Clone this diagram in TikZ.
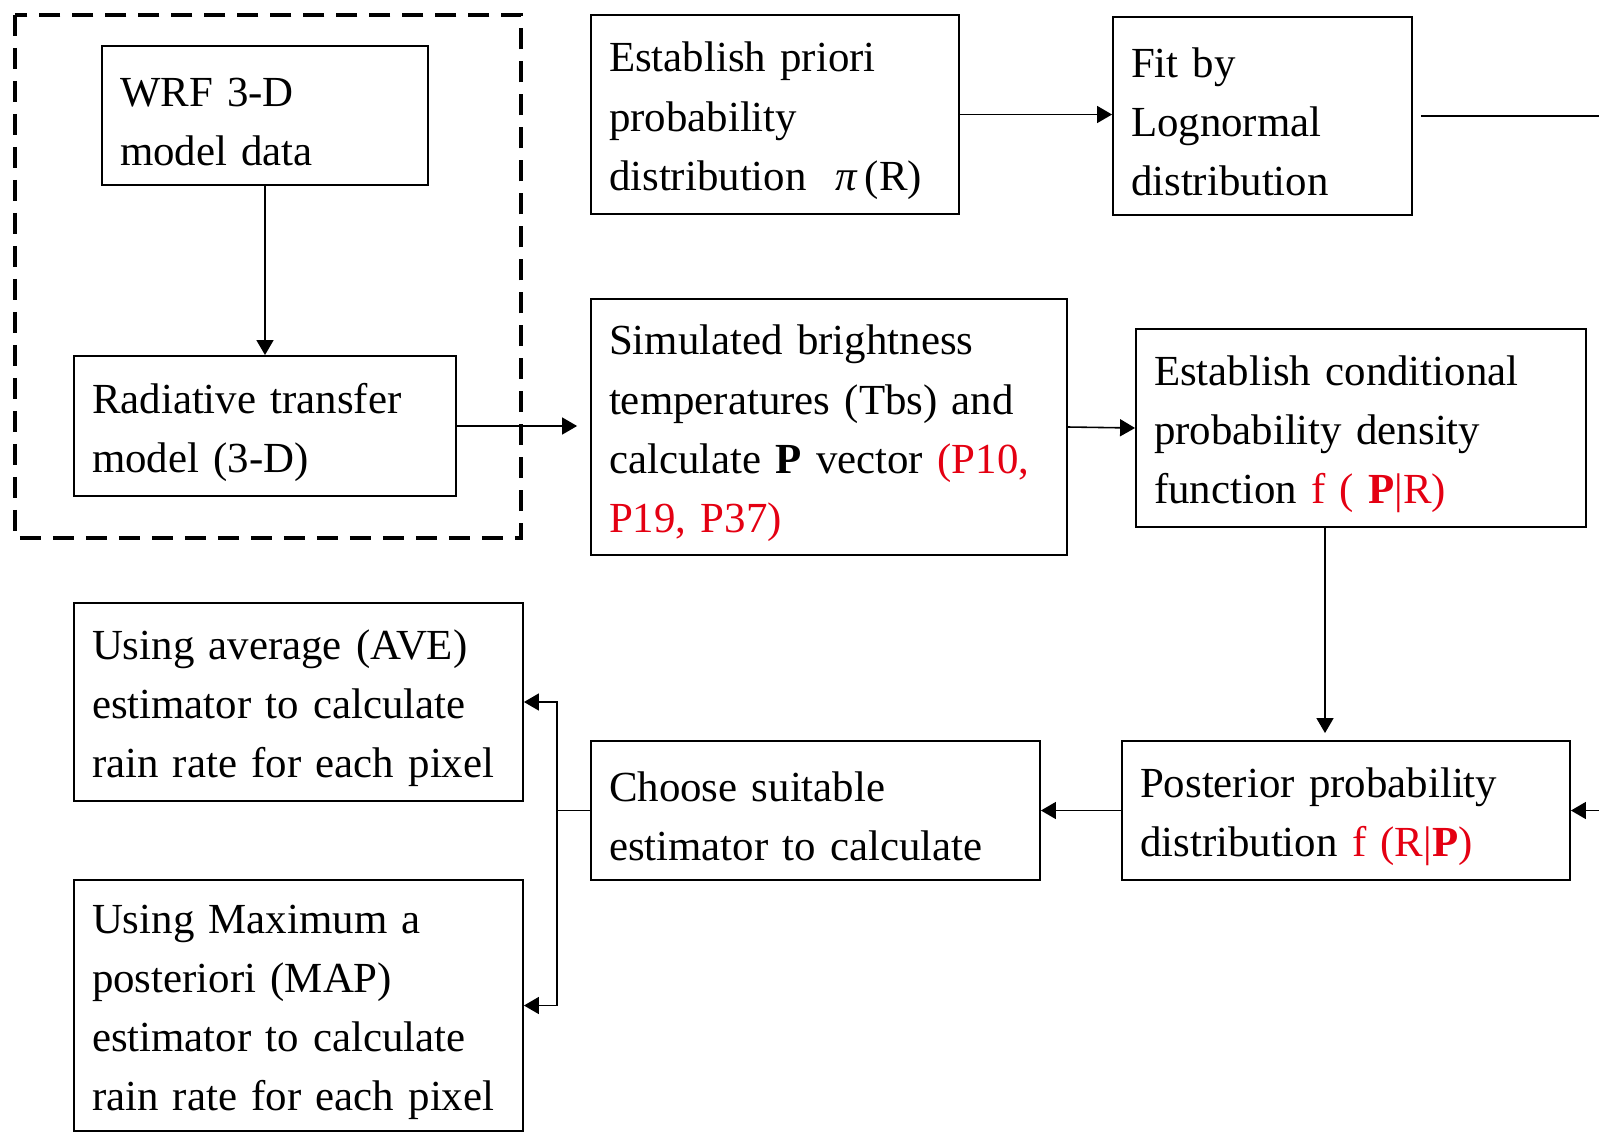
\documentclass[tikz,border=0pt]{standalone}
\usepackage{fontspec}
\setmainfont{Liberation Serif}[WordSpace=0.8]
\usetikzlibrary{arrows.meta}
\definecolor{estred}{RGB}{228,0,18}

\begin{document}
\begin{tikzpicture}[x=0.02cm, y=-0.02cm,
        box/.style={draw, line width=1.1pt, inner xsep=0.36cm, inner ysep=0pt, align=left,
            font=\fontsize{24.4}{33.6}\selectfont, execute at begin node={\rule{0pt}{24pt}}},
        link/.style={line width=0.9pt, -{Triangle[length=0.3cm, width=0.34cm]}}]
        \useasboundingbox (0, 0) rectangle (1599, 1133);

        % Model part inside the dashed frame
        \draw[line width=2pt, dash pattern=on 0.42cm off 0.24cm] (15, 15) rectangle (521, 538);
        \node[box, text width=5.80cm, minimum height=2.78cm] (wrf) at (265, 115.5) {WRF 3-D\\model data};
        \node[box, text width=6.92cm, minimum height=2.80cm] (rad) at (265, 426) {Radiative transfer\\model (3-D)};

        % Prior branch
        \node[box, text width=6.64cm, minimum height=3.98cm] (prior) at (775, 114.5) {Establish priori\\probability\\distribution \ \textit{π}\,(R)};
        \node[box, text width=5.26cm, minimum height=3.96cm] (fit) at (1262.5, 116) {Fit by\\Lognormal\\distribution};

        % Likelihood branch
        \node[box, text width=8.80cm, minimum height=5.12cm] (sim) at (829, 427) {Simulated brightness\\temperatures (Tbs) and\\calculate \textbf{P} vector \textcolor{estred}{(P10,}\\\textcolor{estred}{P19, P37)}};
        \node[box, text width=8.28cm, minimum height=3.96cm] (cond) at (1361, 428) {Establish conditional\\probability density\\function \textcolor{estred}{f ( \textbf{P}|R)}};

        % Posterior and estimators
        \node[box, text width=8.24cm, minimum height=2.78cm] (post) at (1346, 810.5) {Posterior probability\\distribution \textcolor{estred}{f (R|\textbf{P})}};
        \node[box, text width=8.26cm, minimum height=2.78cm] (choose) at (815.5, 810.5) {Choose suitable\\estimator to calculate};
        \node[box, text width=8.26cm, minimum height=3.96cm] (ave) at (298.5, 702) {Using average (AVE)\\estimator to calculate\\rain rate for each pixel};
        \node[box, text width=8.26cm, minimum height=5.02cm] (map) at (298.5, 1005.5) {Using Maximum a\\posteriori (MAP)\\estimator to calculate\\rain rate for each pixel};

        % Loose ends at the right border
        \coordinate (fitout) at (1599, 117);
        \coordinate (postin) at (1599, 812);

        % Connectors
        \draw[link] (wrf) -- (rad);
        \draw[link, shorten >=0.26cm] (rad.east) -- (rad.east -| sim.west);
        \draw[link] (prior.east) -- (prior.east -| fit.west);
        \draw[line width=0.9pt, shorten <=0.16cm] (fit.east) -- (fit.east -| fitout);
        \draw[link] (sim.east) -- (cond.west);
        \draw[link, shorten >=0.14cm] ([xshift=-0.72cm]cond.south) -- ([xshift=-0.72cm]cond.south |- post.north);
        \draw[link] (post.east -| postin) -- (post.east);
        \draw[link] (post) -- (choose);
        \draw[line width=0.9pt] (choose.west) -- ++(-33, 0) coordinate (fork);
        \draw[link] (fork) |- (ave.east);
        \draw[link] (fork) |- (map.east);
    \end{tikzpicture}
\end{document}
